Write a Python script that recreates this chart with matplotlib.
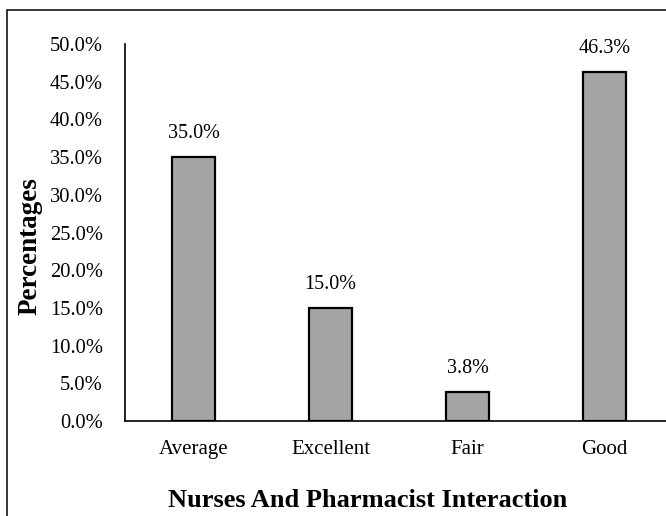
import matplotlib
matplotlib.use("Agg")
import matplotlib.pyplot as plt
from matplotlib.patches import Rectangle
from matplotlib.ticker import FuncFormatter

# ── Data ─────────────────────────────────────────────────────────────────────
categories = ["Average", "Excellent", "Fair", "Good"]
percentages = [35.0, 15.0, 3.8, 46.3]
y_ticks = [0, 5, 10, 15, 20, 25, 30, 35, 40, 45, 50]

plt.rcParams["font.family"] = ["Liberation Serif", "DejaVu Serif"]

W, H = 666, 516
fig = plt.figure(figsize=(W / 100, H / 100), dpi=100)

# outer frame (right edge is cut off in the original)
fig.patches.append(Rectangle((7 / W, -0.05), 1.2, (H - 10) / H + 0.05,
                             transform=fig.transFigure, fill=False,
                             edgecolor="black", linewidth=1.1))

# axes: x from 125px, spanning 4 categories of ~137px each
ax = fig.add_axes([125 / W, (H - 421) / H, 548 / W, 377 / H])

x = range(len(categories))
bars = ax.bar(x, percentages, width=0.32, color="#a5a5a5",
              edgecolor="black", linewidth=1.6)

for b, v in zip(bars, percentages):
    ax.annotate(f"{v:.1f}%", (b.get_x() + b.get_width() / 2, v),
                xytext=(0, 10), textcoords="offset points",
                ha="center", va="bottom", fontsize=14.5)

ax.set_xlim(-0.5, 3.5)
ax.set_ylim(0, 50)
ax.set_yticks(y_ticks)
ax.yaxis.set_major_formatter(FuncFormatter(lambda v, _: f"{v:.1f}%"))
ax.set_xticks(list(x))
ax.set_xticklabels(categories)
ax.tick_params(axis="y", length=0, pad=16, labelsize=14.8)
ax.tick_params(axis="x", length=0, pad=13.5, labelsize=15)

for s in ("top", "right"):
    ax.spines[s].set_visible(False)
for s in ("left", "bottom"):
    ax.spines[s].set_linewidth(1.2)

fig.text(368 / W, (H - 507) / H, "Nurses And Pharmacist Interaction",
         ha="center", va="baseline", fontsize=19, fontweight="bold")
fig.text(30 / W, (H - 246) / H, "Percentages", rotation=90,
         ha="center", va="center", fontsize=19.5, fontweight="bold")

fig.savefig("out.png", dpi=100)
